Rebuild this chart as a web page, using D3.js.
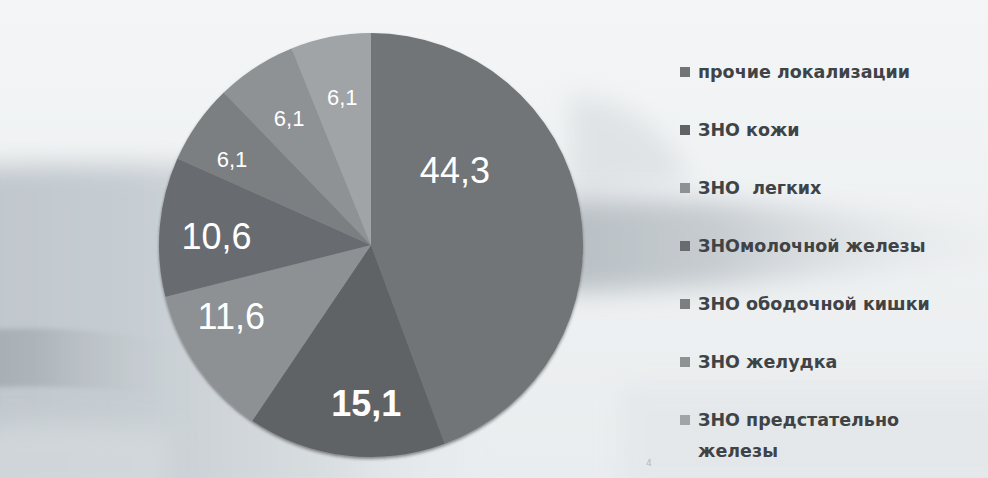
<!DOCTYPE html>
<html>
<head>
<meta charset="utf-8">
<script src="https://cdn.jsdelivr.net/npm/d3@7/dist/d3.min.js"></script>
<style>
  body { margin: 0; background: #f3f5f6; }
  svg { display: block; }
</style>
</head>
<body>
<div id="chart"></div>
<script>
// data
const categories = [
  "прочие локализации",
  "ЗНО кожи",
  "ЗНО  легких",
  "ЗНОмолочной железы",
  "ЗНО ободочной кишки",
  "ЗНО желудка",
  "ЗНО предстательно железы"
];
const values = [44.3, 15.1, 11.6, 10.6, 6.1, 6.1, 6.1];
const valueLabels = ["44,3", "15,1", "11,6", "10,6", "6,1", "6,1", "6,1"];
// legend text, split into lines the way the slide wraps it
const legendLines = [
  ["прочие локализации"],
  ["ЗНО кожи"],
  ["ЗНО  легких"],
  ["ЗНОмолочной железы"],
  ["ЗНО ободочной кишки"],
  ["ЗНО желудка"],
  ["ЗНО предстательно", "железы"]
];

const width = 988, height = 478;
const palette = ["#717578", "#606366", "#8d9194", "#686c6f", "#7b7f82", "#8e9295", "#a0a4a6"];

const svg = d3.select("#chart")
  .append("svg")
  .attr("width", width)
  .attr("height", height);

const defs = svg.append("defs");

// blur filters span the whole slide so nothing gets clipped
function blurFilter(id, sd) {
  defs.append("filter").attr("id", id)
    .attr("filterUnits", "userSpaceOnUse")
    .attr("x", -50).attr("y", -50).attr("width", width + 100).attr("height", height + 100)
    .append("feGaussianBlur").attr("stdDeviation", sd);
}
blurFilter("soft", 12);
blurFilter("softer", 2.5);

const shadow = defs.append("filter").attr("id", "pieShadow")
  .attr("x", "-10%").attr("y", "-10%").attr("width", "120%").attr("height", "120%");
shadow.append("feDropShadow")
  .attr("dx", 0).attr("dy", 2).attr("stdDeviation", 1.5)
  .attr("flood-color", "#222").attr("flood-opacity", 0.5);

function hGradient(id, stops) {
  const g = defs.append("linearGradient").attr("id", id);
  stops.forEach(s => g.append("stop")
    .attr("offset", s[0]).attr("stop-color", s[1]).attr("stop-opacity", s[2] ?? 1));
}
hGradient("leftFade", [["0%", "#bfc6cc"], ["30%", "#c6cdd2"], ["65%", "#d8dde0"], ["100%", "#eceff1", 0]]);
hGradient("streakFade", [["0%", "#a4acb2"], ["30%", "#aeb5ba"], ["100%", "#c2c8cc", 0]]);
hGradient("rightFade", [["0%", "#b8bfc4"], ["35%", "#c6ccd0"], ["100%", "#e6e9eb", 0.1]]);

const vFade = defs.append("linearGradient").attr("id", "vFade")
  .attr("x1", 0).attr("y1", 0).attr("x2", 0).attr("y2", 1);
vFade.append("stop").attr("offset", "0%").attr("stop-color", "#f3f5f6");
vFade.append("stop").attr("offset", "100%").attr("stop-color", "#eaedef");

// background
const bg = svg.append("g").attr("class", "background");
bg.append("rect").attr("width", width).attr("height", height).attr("fill", "url(#vFade)");
bg.append("path")
  .attr("d", "M-40,168 C100,160 300,165 520,185 L520,500 L-40,500 Z")
  .attr("fill", "url(#leftFade)")
  .attr("filter", "url(#soft)");
bg.append("path")
  .attr("d", "M-20,330 C50,326 110,330 170,343 L170,396 C110,388 50,384 -20,388 Z")
  .attr("fill", "url(#streakFade)")
  .attr("filter", "url(#softer)");
bg.append("path")
  .attr("d", "M-20,425 C60,420 120,424 170,432 L170,500 L-20,500 Z")
  .attr("fill", "#d6dbde")
  .attr("opacity", 0.7)
  .attr("filter", "url(#soft)");
bg.append("path")
  .attr("d", "M570,95 C620,100 660,120 690,180 L570,200 Z")
  .attr("fill", "#dce0e3")
  .attr("opacity", 0.8)
  .attr("filter", "url(#soft)");
bg.append("path")
  .attr("d", "M560,200 C700,195 850,212 1010,228 L1010,262 C850,270 700,292 560,292 Z")
  .attr("fill", "url(#rightFade)")
  .attr("filter", "url(#soft)");
bg.append("rect")
  .attr("x", 620).attr("y", 385).attr("width", 400).attr("height", 110)
  .attr("fill", "#dfe3e5").attr("opacity", 0.5)
  .attr("filter", "url(#soft)");

// pie
const cx = 371, cy = 245, radius = 212;

const pie = d3.pie().sort(null).value(d => d);
const arcs = pie(values);

const arc = d3.arc().innerRadius(0).outerRadius(radius);

const pieG = svg.append("g")
  .attr("transform", `translate(${cx},${cy})`);

pieG.append("g")
  .attr("filter", "url(#pieShadow)")
  .selectAll("path")
  .data(arcs)
  .enter()
  .append("path")
  .attr("d", arc)
  .attr("fill", (d, i) => palette[i]);

// label angle nudges (radians) and radius factors, Excel best-fit style
const labelShift = [-0.55, -0.09, 0.14, -0.03, -0.06, 0, 0];
const labelRadius = [0.53, 0.75, 0.74, 0.73, 0.77, 0.71, 0.71];

function labelPos(d, i) {
  const a = (d.startAngle + d.endAngle) / 2 + labelShift[i];
  const r = radius * labelRadius[i];
  return [Math.sin(a) * r, -Math.cos(a) * r];
}

pieG.append("g")
  .selectAll("text")
  .data(arcs)
  .enter()
  .append("text")
  .attr("transform", (d, i) => `translate(${labelPos(d, i)})`)
  .attr("text-anchor", "middle")
  .attr("dominant-baseline", "central")
  .attr("fill", "#ffffff")
  .style("font-family", "'Liberation Sans', Arial, sans-serif")
  .style("font-size", d => d.data > 10 ? "36px" : "22px")
  .style("font-weight", (d, i) => i === 1 ? "bold" : "normal")
  .text((d, i) => valueLabels[i]);

// legend
const legend = svg.append("g")
  .attr("class", "legend")
  .attr("transform", "translate(680, 72)");

const item = legend.selectAll(".legend-item")
  .data(categories)
  .enter()
  .append("g")
  .attr("class", "legend-item")
  .attr("transform", (d, i) => `translate(0, ${i * 58})`);

item.append("rect")
  .attr("x", 0)
  .attr("y", -5)
  .attr("width", 10)
  .attr("height", 10)
  .attr("fill", (d, i) => palette[i]);

item.append("text")
  .attr("x", 18)
  .attr("y", 0)
  .attr("dominant-baseline", "central")
  .attr("fill", "#404346")
  .style("font-family", "'DejaVu Sans', sans-serif")
  .style("font-size", "17.5px")
  .style("font-weight", "bold")
  .style("white-space", "pre")
  .selectAll("tspan")
  .data((d, i) => legendLines[i])
  .enter()
  .append("tspan")
  .attr("x", 18)
  .attr("dy", (d, j) => j === 0 ? 0 : 31)
  .text(d => d);

// slide page number
svg.append("text")
  .attr("x", 646)
  .attr("y", 466)
  .attr("fill", "#b5b9bc")
  .style("font-family", "'DejaVu Sans', sans-serif")
  .style("font-size", "9px")
  .text("4");
</script>
</body>
</html>
